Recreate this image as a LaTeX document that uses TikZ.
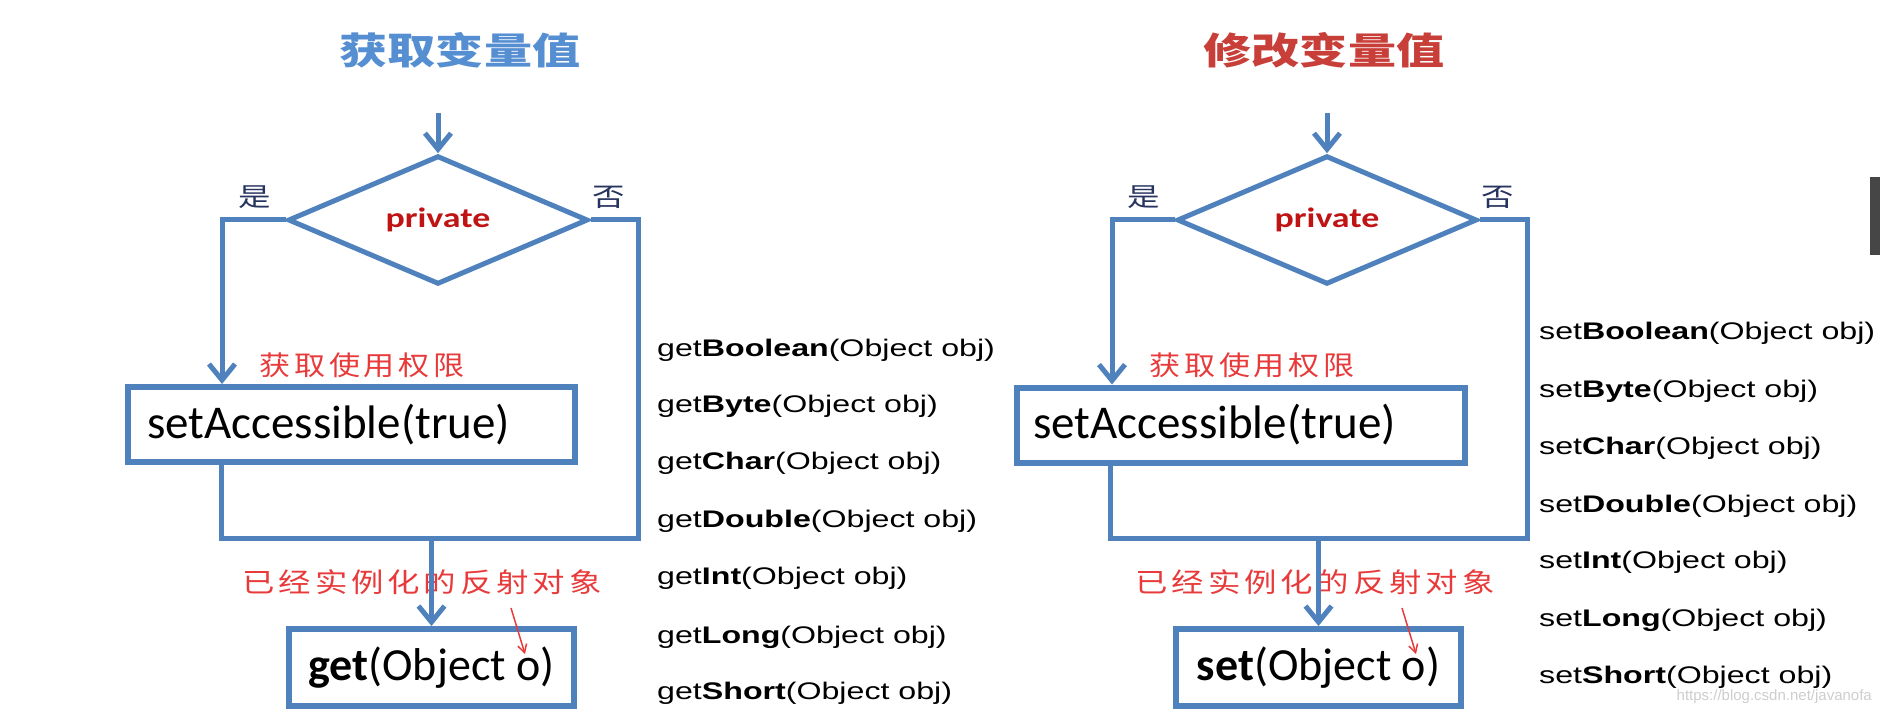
\documentclass[tikz,border=0pt]{standalone}
\usepackage{fontspec}
\setmainfont{Liberation Sans}
\newfontfamily\cjk{Noto Sans CJK SC}
\newfontfamily\cjkhand{Noto Sans CJK SC}[LetterSpace=12]
\newfontfamily\calfont{Carlito}
\usetikzlibrary{shapes.geometric,arrows.meta}
\definecolor{flowblue}{RGB}{79,129,189}
\definecolor{titleblue}{RGB}{86,142,210}
\definecolor{titlered}{RGB}{200,62,56}
\definecolor{navy}{RGB}{40,52,96}
\definecolor{privred}{RGB}{192,20,20}
\definecolor{handred}{RGB}{232,58,58}
\definecolor{wmgray}{RGB}{205,205,205}
\definecolor{bargray}{RGB}{70,70,70}
\begin{document}
\begin{tikzpicture}[x=1pt,y=-1pt,
  flow/.style={draw=flowblue, line width=5pt},
  flowarrow/.style={flow, -{Straight Barb[length=16pt,width=26pt]}},
  redarrow/.style={draw=handred, line width=1.5pt, -{Straight Barb[length=8pt,width=9pt]}},
  decision/.style={diamond, draw=flowblue, line width=5pt, minimum width=300pt, minimum height=114pt, inner sep=0pt, text=privred, font=\calfont\bfseries\fontsize{28}{30}\selectfont},
  procbox/.style={rectangle, draw=flowblue, line width=6pt, inner ysep=0pt, align=left, font=\calfont\fontsize{47}{50}\selectfont},
  callbox/.style={rectangle, draw=flowblue, line width=6pt, inner sep=0pt, minimum width=285pt, minimum height=77pt, font=\calfont\fontsize{46}{50}\selectfont},
  titletext/.style={inner sep=0pt, font=\cjk\bfseries\fontsize{37}{40}\selectfont},
  yn/.style={inner sep=0pt, text=navy, font=\cjk\fontsize{26}{28}\selectfont},
  hand/.style={inner sep=0pt, text=handred, font=\cjkhand\fontsize{27}{29}\selectfont},
  method/.style={anchor=west, inner sep=0pt, font=\fontsize{24}{26}\selectfont}
]
\useasboundingbox (0,0) rectangle (1880,714);

% ---------------- left: get ----------------
\node[titletext, text=titleblue] (titleL) at (460,50) {\scalebox{1.3}[1]{获取变量值}};
\coordinate (startL) at (438,113);
\node[decision] (decL) at (438,220) {\scalebox{1.28}[1]{private}};
\node[yn] (yesL) at (255,197) {\scalebox{1.25}[1]{是}};
\node[yn] (noL) at (609,197) {\scalebox{1.25}[1]{否}};
\node[procbox, text width=409pt, inner xsep=19pt, minimum height=75pt] (accL) at (351.5,424.5) {setAccessible(true)};
\node[hand] (permL) at (362,365) {\scalebox{1.15}[1]{获取使用权限}};
\node[callbox] (getL) at (431.5,667.5) {\textbf{get}(Object o)};
\node[hand] (instL) at (422,582) {\scalebox{1.2}[1]{已经实例化的反射对象}};
\coordinate (yesxL) at (222,0);
\coordinate (accxL) at (221,0);
\coordinate (joinL) at (638,538);
\draw[flowarrow] (startL) -- (decL.north);
\draw[flowarrow] (decL.west) -| (accL.north -| yesxL);
\draw[flow] (accL.south -| accxL) |- (joinL) |- (decL.east);
\draw[flowarrow] (getL.north |- joinL) -- (getL.north);
\coordinate (pa1L) at (511,608);
\coordinate (pa2L) at (525,654);
\draw[redarrow] (pa1L) -- (pa2L);

\node[method] (gm1) at (657,350) {\scalebox{1.34}[1]{get\textbf{Boolean}(Object obj)}};
\node[method] (gm2) at (657,406) {\scalebox{1.34}[1]{get\textbf{Byte}(Object obj)}};
\node[method] (gm3) at (657,463) {\scalebox{1.34}[1]{get\textbf{Char}(Object obj)}};
\node[method] (gm4) at (657,521) {\scalebox{1.34}[1]{get\textbf{Double}(Object obj)}};
\node[method] (gm5) at (657,578) {\scalebox{1.34}[1]{get\textbf{Int}(Object obj)}};
\node[method] (gm6) at (657,637) {\scalebox{1.34}[1]{get\textbf{Long}(Object obj)}};
\node[method] (gm7) at (657,693) {\scalebox{1.34}[1]{get\textbf{Short}(Object obj)}};

% ---------------- right: set ----------------
\node[titletext, text=titlered] (titleR) at (1324,50) {\scalebox{1.3}[1]{修改变量值}};
\coordinate (startR) at (1327,113);
\node[decision] (decR) at (1327,220) {\scalebox{1.28}[1]{private}};
\node[yn] (yesR) at (1144,197) {\scalebox{1.25}[1]{是}};
\node[yn] (noR) at (1498,197) {\scalebox{1.25}[1]{否}};
\node[procbox, text width=416pt, inner xsep=16pt, minimum height=75pt] (accR) at (1241,425) {setAccessible(true)};
\node[hand] (permR) at (1252,365) {\scalebox{1.15}[1]{获取使用权限}};
\node[callbox] (setR) at (1318.5,667.5) {\textbf{set}(Object o)};
\node[hand] (instR) at (1315,582) {\scalebox{1.2}[1]{已经实例化的反射对象}};
\coordinate (yesxR) at (1112,0);
\coordinate (accxR) at (1110,0);
\coordinate (joinR) at (1527,538);
\draw[flowarrow] (startR) -- (decR.north);
\draw[flowarrow] (decR.west) -| (accR.north -| yesxR);
\draw[flow] (accR.south -| accxR) |- (joinR) |- (decR.east);
\draw[flowarrow] (setR.north |- joinR) -- (setR.north);
\coordinate (pa1R) at (1402,608);
\coordinate (pa2R) at (1416,654);
\draw[redarrow] (pa1R) -- (pa2R);

\node[method] (sm1) at (1539,333) {\scalebox{1.34}[1]{set\textbf{Boolean}(Object obj)}};
\node[method] (sm2) at (1539,391) {\scalebox{1.34}[1]{set\textbf{Byte}(Object obj)}};
\node[method] (sm3) at (1539,448) {\scalebox{1.34}[1]{set\textbf{Char}(Object obj)}};
\node[method] (sm4) at (1539,506) {\scalebox{1.34}[1]{set\textbf{Double}(Object obj)}};
\node[method] (sm5) at (1539,562) {\scalebox{1.34}[1]{set\textbf{Int}(Object obj)}};
\node[method] (sm6) at (1539,620) {\scalebox{1.34}[1]{set\textbf{Long}(Object obj)}};
\node[method] (sm7) at (1539,677) {\scalebox{1.34}[1]{set\textbf{Short}(Object obj)}};

% screen artefacts
\fill[bargray] (1870,177) rectangle (1880,255);
\node[anchor=east, inner sep=0pt, text=wmgray, font=\fontsize{15}{17}\selectfont] (wm) at (1872,697) {https://blog.csdn.net/javanofa};
\end{tikzpicture}
\end{document}
